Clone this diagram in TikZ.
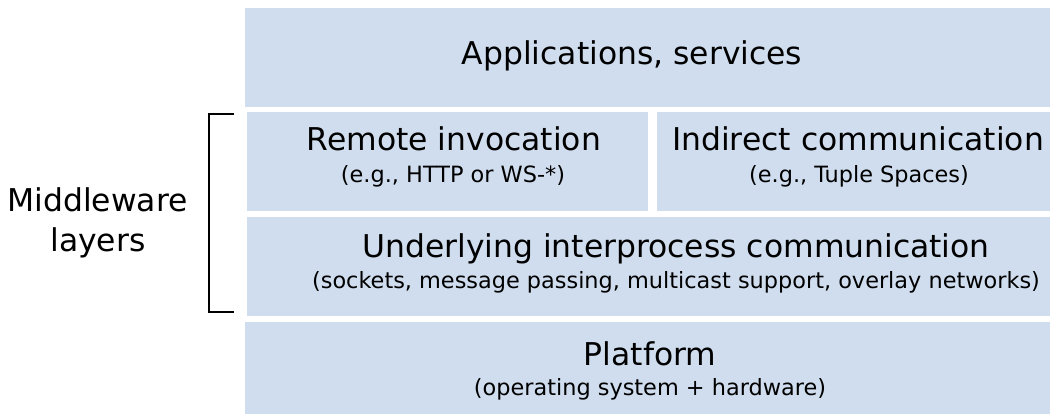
\documentclass[tikz,border=0pt]{standalone}
\usepackage{fontspec}
\setmainfont{DejaVu Sans}
\definecolor{layerblue}{RGB}{207,221,238}
\begin{document}
\begin{tikzpicture}[x=1pt,y=-1pt,
  layer/.style={fill=layerblue,draw=none,inner sep=0pt,outer sep=0pt,anchor=north west},
  bigtxt/.style={anchor=base,inner sep=0pt,font=\fontsize{31.4}{36}\selectfont},
  smalltxt/.style={anchor=base,inner sep=0pt,font=\fontsize{22.4}{26}\selectfont},
  brk/.style={draw=black,line width=2pt}]
\useasboundingbox (0,0) rectangle (1050,414);
% layers
\node[layer,minimum width=805pt,minimum height=98.7pt] (app) at (245,8) {};
\node[layer,minimum width=401.3pt,minimum height=98.7pt] (remote) at (246.7,112) {};
\node[layer,minimum width=393pt,minimum height=98.7pt] (indirect) at (657,112) {};
\node[layer,minimum width=803.3pt,minimum height=99pt] (under) at (246.7,216.7) {};
\node[layer,minimum width=805pt,minimum height=92.3pt] (plat) at (245,321.7) {};
% texts
\node[bigtxt] (tapp) at (632,65) {Applications, services};
\node[bigtxt] (tremote) at (454,150.7) {Remote invocation};
\node[smalltxt] (sremote) at (453,182.7) {(e.g., HTTP or WS-*)};
\node[bigtxt] (tind) at (858,150.7) {Indirect communication};
\node[smalltxt] (sind) at (859,182.7) {(e.g., Tuple Spaces)};
\node[bigtxt] (tunder) at (676,258) {Underlying interprocess communication};
\node[smalltxt] (sunder) at (676,289) {(sockets, message passing, multicast support, overlay networks)};
\node[bigtxt] (tplat) at (650,365.5) {Platform};
\node[smalltxt] (splat) at (650,395.5) {(operating system + hardware)};
\node[bigtxt] (mw1) at (97.5,212) {Middleware};
\node[bigtxt] (mw2) at (98,252) {layers};
% bracket
\coordinate (b1) at (233.5,114);
\coordinate (b2) at (233.5,312);
\draw[brk] (b1) -- (209,114) -- (209,312) -- (b2);
\end{tikzpicture}
\end{document}
